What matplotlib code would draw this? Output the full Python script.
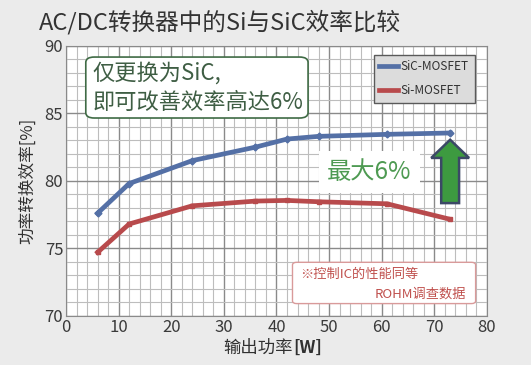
import matplotlib
matplotlib.use("Agg")
import matplotlib.pyplot as plt
from matplotlib.patches import FancyArrow, FancyBboxPatch
from matplotlib.ticker import MultipleLocator

plt.rcParams["font.family"] = ["Noto Sans CJK SC", "DejaVu Sans"]

# data
power_w = [6, 12, 24, 36, 42, 48, 61, 73]
sic_eff = [77.6, 79.8, 81.5, 82.5, 83.1, 83.3, 83.45, 83.55]
si_eff = [74.7, 76.8, 78.15, 78.5, 78.55, 78.45, 78.3, 77.15]
series_names = ["SiC-MOSFET", "Si-MOSFET"]

bg = "#ebebeb"
fig = plt.figure(figsize=(5.31, 3.65), dpi=100, facecolor=bg)
ax = fig.add_axes([0.1243, 0.135, 0.7928, 0.739])
ax.set_facecolor("white")

ax.set_xlim(0, 80)
ax.set_ylim(70, 90)
ax.xaxis.set_major_locator(MultipleLocator(10))
ax.xaxis.set_minor_locator(MultipleLocator(2))
ax.yaxis.set_major_locator(MultipleLocator(5))
ax.yaxis.set_minor_locator(MultipleLocator(1))
ax.grid(True, which="major", color="#8a8a8a", lw=1.0, zorder=0)
ax.grid(True, which="minor", color="#bdbdbd", lw=0.8, zorder=0)
ax.set_axisbelow(True)
for s in ax.spines.values():
    s.set_color("#8a8a8a")
ax.tick_params(which="both", length=0, labelsize=12, colors="#3a3a3a", pad=2)

colors = ["#5470a6", "#b84a4c"]
ax.plot(power_w, sic_eff, color=colors[0], lw=3.4, label=series_names[0], zorder=3)
ax.plot(power_w, sic_eff, color=colors[0], lw=0, marker="D", ms=3.5, zorder=3)
ax.plot(power_w, si_eff, color=colors[1], lw=3.4, label=series_names[1], zorder=3)
ax.plot(power_w, si_eff, color=colors[1], lw=0, marker="s", ms=3.5, zorder=3)

leg = ax.legend(loc="upper right", bbox_to_anchor=(0.985, 0.99), fontsize=8.5,
                frameon=True, fancybox=False, handlelength=1.6,
                handletextpad=0.2, borderpad=0.5, labelspacing=0.9)
leg.get_frame().set_facecolor("#dcdcdc")
leg.get_frame().set_edgecolor("#5a5a5a")
leg.get_frame().set_alpha(1)
for t in leg.get_texts():
    t.set_color("#303030")

# x label: plain text plus bold unit
fig.text(0.552, 0.047, "输出功率", fontsize=12.5, color="#303030",
         ha="right", va="center")
fig.text(0.552, 0.047, "[W]", fontsize=12.5, color="#303030",
         ha="left", va="center", fontweight="bold")
ax.set_ylabel("功率转换效率[%]", fontsize=12, color="#303030", labelpad=6)

fig.text(0.073, 0.94, "AC/DC转换器中的Si与SiC效率比较", fontsize=17,
         color="#333333", va="center", ha="left")

# callout box
box = FancyBboxPatch((0.047, 0.733), 0.528, 0.226, transform=ax.transAxes,
                     boxstyle="round,pad=0,rounding_size=0.02",
                     fc="white", ec="#3f6b45", lw=1.2, zorder=4)
ax.add_patch(box)
ax.text(0.063, 0.90, "仅更换为SiC,", transform=ax.transAxes, fontsize=16,
        color="#3f5e44", va="center", zorder=5)
ax.text(0.063, 0.789, "即可改善效率高达6%", transform=ax.transAxes, fontsize=16,
        color="#3f5e44", va="center", zorder=5)

ax.text(0.72, 0.533, "最大6%", transform=ax.transAxes, fontsize=17.5,
        color="#4e9a52", va="center", ha="center", zorder=5,
        bbox=dict(facecolor="white", edgecolor="none", pad=6))

# up arrow between the two curves at the last point
x_end = power_w[-1]
y_top = sic_eff[-1] - 0.5
y_bot = si_eff[-1] + 1.2
ax.add_patch(FancyArrow(x_end, y_bot, 0, y_top - y_bot, width=3.4,
                        head_width=7.2, head_length=1.35,
                        length_includes_head=True, fc="#3d9a40",
                        ec="#3b4866", lw=1.8, zorder=5))

# note box
note = FancyBboxPatch((0.538, 0.045), 0.435, 0.153, transform=ax.transAxes,
                      boxstyle="round,pad=0,rounding_size=0.01",
                      fc="white", ec="#d99a9a", lw=1.0, zorder=4)
ax.add_patch(note)
ax.text(0.555, 0.155, "※控制IC的性能同等", transform=ax.transAxes, fontsize=9.5,
        color="#c0504d", va="center", zorder=5)
ax.text(0.95, 0.08, "ROHM调查数据", transform=ax.transAxes, fontsize=9.5,
        color="#c0504d", va="center", ha="right", zorder=5)

fig.savefig("out.png", dpi=100, facecolor=bg)
